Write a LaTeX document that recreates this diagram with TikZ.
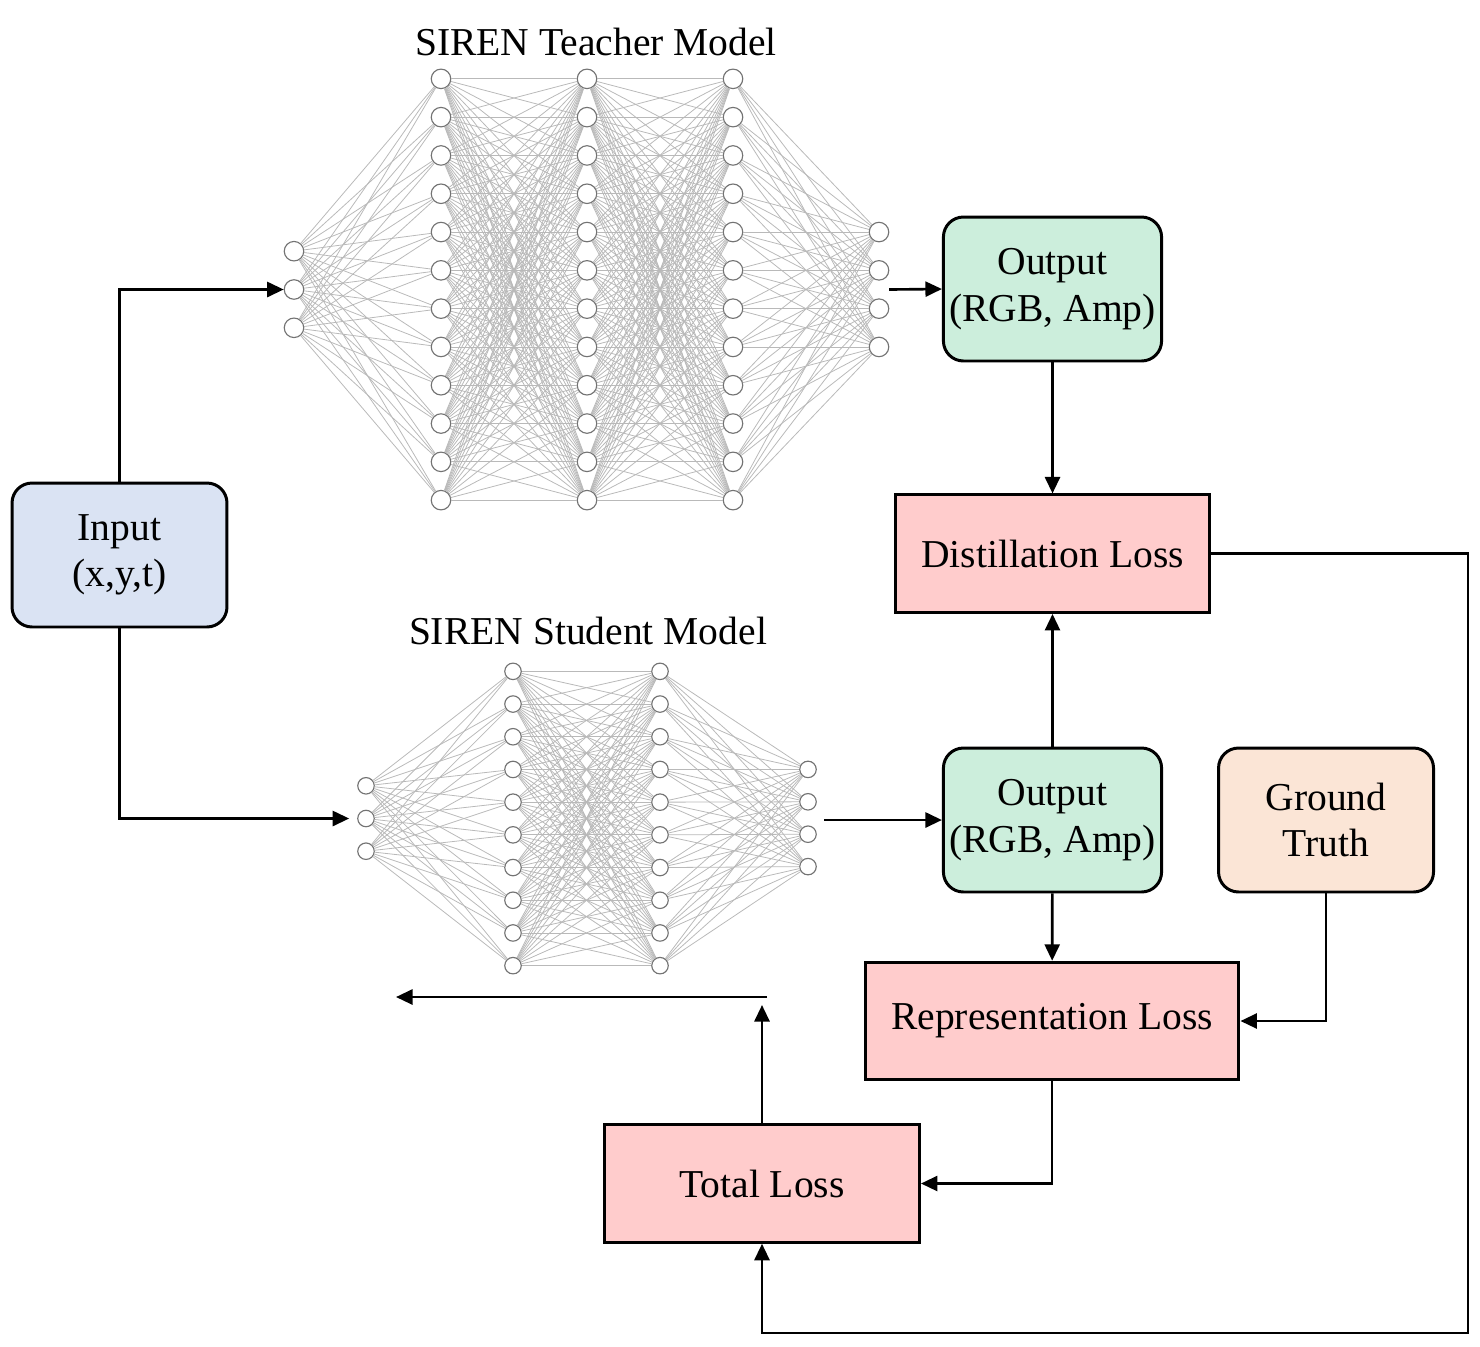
\documentclass[tikz,border=0pt]{standalone}
\usepackage{fontspec}
\setmainfont{Liberation Serif}
\usetikzlibrary{arrows.meta,positioning}

\definecolor{inblue}{HTML}{DAE3F3}
\definecolor{outgreen}{HTML}{CCEEDC}
\definecolor{lossred}{HTML}{FFCCCC}
\definecolor{gtpeach}{HTML}{FBE5D6}

\begin{document}
\begin{tikzpicture}[->,>={Triangle[length=0.33cm,width=0.3cm]},line width=1.5pt,
                    x=0.02cm,y=-0.02cm,font=\fontsize{22.5}{26.5}\selectfont]
  \tikzstyle{neuron}=[circle,draw=gray!110,fill=white,line width=0.65pt,minimum size=0.39cm,inner sep=0pt]
  \tikzstyle{sneuron}=[neuron,minimum size=0.33cm]
  \tikzstyle{wire}=[-,draw=gray!55,line width=0.45pt]
  \tikzstyle{rbox}=[draw,rounded corners=0.4cm,line width=1.7pt,minimum width=4.3cm,minimum height=2.88cm,align=center]
  \tikzstyle{loss}=[draw,line width=1.7pt,fill=lossred,minimum height=2.35cm,align=center]

  \useasboundingbox (0,0) rectangle (1480,1346);

  % teacher network
  \node (tlabel) at (596,42) {SIREN Teacher Model};
  \foreach \i in {1,...,3}
    \node[neuron] (t0-\i) at (294,{289.5+(\i-2)*38.3}) {};
  \foreach \l/\x in {1/441,2/587,3/733}
    \foreach \i in {1,...,12}
      \node[neuron] (t\l-\i) at (\x,{289.5+(\i-6.5)*38.3}) {};
  \foreach \i in {1,...,4}
    \node[neuron] (t4-\i) at (879,{289.5+(\i-2.5)*38.3}) {};

  \foreach \i in {1,...,3}
    \foreach \j in {1,...,12}
      \path (t0-\i) edge[wire] (t1-\j);
  \foreach \a/\b in {1/2,2/3}
    \foreach \i in {1,...,12}
      \foreach \j in {1,...,12}
        \path (t\a-\i) edge[wire] (t\b-\j);
  \foreach \i in {1,...,12}
    \foreach \j in {1,...,4}
      \path (t3-\i) edge[wire] (t4-\j);

  % student network
  \node (slabel) at (588,631) {SIREN Student Model};
  \foreach \i in {1,...,3}
    \node[sneuron] (s0-\i) at (366,{818.5+(\i-2)*32.7}) {};
  \foreach \l/\x in {1/513,2/660}
    \foreach \i in {1,...,10}
      \node[sneuron] (s\l-\i) at (\x,{818.5+(\i-5.5)*32.7}) {};
  \foreach \i in {1,...,4}
    \node[sneuron] (s3-\i) at (808,{818+(\i-2.5)*32.4}) {};

  \foreach \i in {1,...,3}
    \foreach \j in {1,...,10}
      \path (s0-\i) edge[wire] (s1-\j);
  \foreach \i in {1,...,10}
    \foreach \j in {1,...,10}
      \path (s1-\i) edge[wire] (s2-\j);
  \foreach \i in {1,...,10}
    \foreach \j in {1,...,4}
      \path (s2-\i) edge[wire] (s3-\j);

  % boxes
  \node[rbox,fill=inblue] (inp) at (119.5,555) {Input\\(x,y,t)};
  \node[rbox,fill=outgreen] (outT) at (1052.5,289) {Output\\(RGB, Amp)};
  \node[loss,minimum width=6.3cm] (distill) [below=2.62cm of outT] {Distillation Loss};
  \node[rbox,fill=outgreen] (outS) at (1052.5,820) {Output\\(RGB, Amp)};
  \node[rbox,fill=gtpeach] (gt) [right=1.08cm of outS] {Ground\\Truth};
  \node[loss,minimum width=7.48cm] (repr) at (1052,1021) {Representation Loss};
  \node[loss,minimum width=6.3cm] (total) at (762,1183.5) {Total Loss};

  % connectors
  \coordinate (tout) at (889,289.5);
  \coordinate (sout) at (824,820);
  \coordinate (fbcorner) at (1468,1333);
  \coordinate (upend) at (762,1005);
  \coordinate (bpstart) at (767,997);
  \coordinate (bpend) at (396,997);

  \draw (inp.north) |- (t0-2);
  \draw[shorten >=0.16cm] (inp.south) |- (s0-2);
  \draw (tout) -- (outT.west);
  \draw (sout) -- (outS.west);
  \draw (outT) -- (distill);
  \draw (outS) -- (distill);
  \draw (outS) -- (repr);
  \draw (gt.south) |- (repr.east);
  \draw (repr.south) |- (total.east);
  \draw (distill.east) -| (fbcorner) -| (total.south);
  \draw (total.north) -- (upend);
  \draw (bpstart) -- (bpend);

\end{tikzpicture}
\end{document}
